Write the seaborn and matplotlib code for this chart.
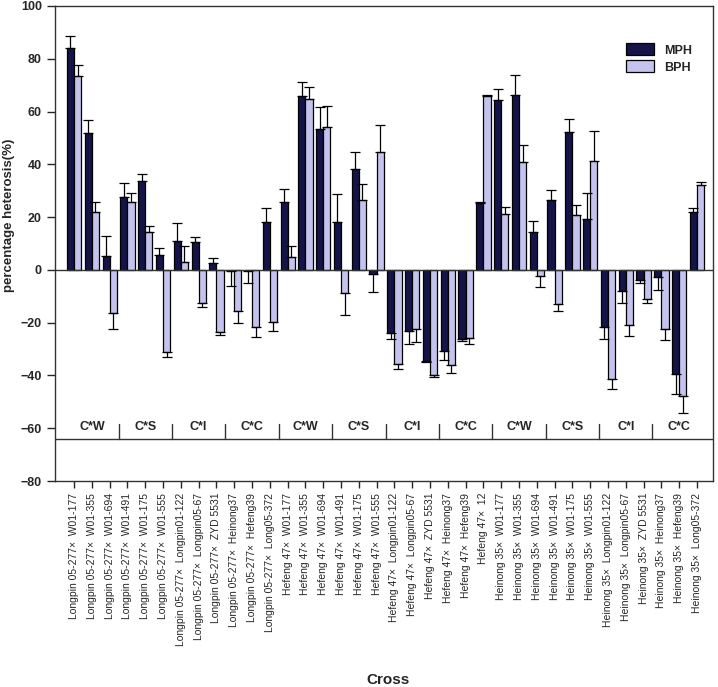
import matplotlib
matplotlib.use("Agg")
import matplotlib.pyplot as plt
import numpy as np
import pandas as pd
import seaborn as sns

# crosses in plotting order
female = ["Longpin 05-277×"] * 12 + ["Hefeng 47×"] * 12 + ["Heinong 35×"] * 12
male = ["W01-177", "W01-355", "W01-694", "W01-491", "W01-175", "W01-555",
        "Longpin01-122", "Longpin05-67", "ZYD 5531", "Heinong37", "Hefeng39", "Long05-372",
        "W01-177", "W01-355", "W01-694", "W01-491", "W01-175", "W01-555",
        "Longpin01-122", "Longpin05-67", "ZYD 5531", "Heinong37", "Hefeng39", "12",
        "W01-177", "W01-355", "W01-694", "W01-491", "W01-175", "W01-555",
        "Longpin01-122", "Longpin05-67", "ZYD 5531", "Heinong37", "Hefeng39", "Long05-372"]
crosses = [f + "  " + m for f, m in zip(female, male)]

groups = ["C*W", "C*S", "C*I", "C*C"] * 3

mph = [84.1, 52.0, 5.3, 27.7, 33.5, 5.6, 11.0, 10.5, 2.7, -0.6, -0.6, 18.3,
       25.7, 66.0, 53.5, 18.3, 38.2, -1.5, -24.0, -23.1, -34.4, -30.9, -26.3, 25.3,
       64.5, 66.4, 14.2, 26.3, 52.3, 19.4, -21.5, -8.0, -3.8, -2.8, -39.6, 22.1]
mph_err = [4.4, 4.7, 7.6, 5.3, 2.9, 2.6, 6.6, 1.9, 1.8, 5.5, 4.2, 5.0,
           4.8, 5.2, 8.2, 10.4, 6.6, 7.0, 2.3, 5.0, 0.5, 3.3, 0.6, 0.3,
           3.9, 7.5, 4.5, 3.8, 4.9, 9.7, 4.7, 4.5, 1.3, 5.0, 7.3, 1.2]
bph = [73.5, 21.9, -16.4, 25.9, 14.2, -31.0, 2.9, -12.5, -23.4, -15.4, -21.5, -19.6,
       4.9, 64.6, 54.0, -8.9, 26.6, 44.8, -35.7, -22.3, -40.0, -36.2, -25.9, 65.8,
       21.1, 40.7, -2.5, -12.9, 20.7, 41.1, -41.5, -20.9, -11.0, -22.4, -47.7, 32.1]
bph_err = [4.2, 3.8, 6.0, 3.2, 2.6, 1.9, 6.2, 1.6, 1.3, 4.6, 3.8, 3.4,
           4.1, 4.8, 8.2, 8.1, 6.0, 10.2, 2.0, 5.2, 0.5, 2.8, 2.1, 0.6,
           2.9, 6.5, 3.8, 2.7, 3.8, 11.4, 3.7, 4.0, 1.4, 4.0, 6.5, 1.3]

colors = {"MPH": "#0b0b52", "BPH": "#bcbcf4"}

df = pd.DataFrame({
    "cross": crosses * 2,
    "type": ["MPH"] * len(crosses) + ["BPH"] * len(crosses),
    "value": mph + bph,
    "err": mph_err + bph_err,
})

sns.set_style("ticks")
plt.rcParams["font.family"] = ["Liberation Sans", "DejaVu Sans"]

fig, ax = plt.subplots(figsize=(7.18, 6.87), dpi=100)
fig.subplots_adjust(left=55 / 718, right=713 / 718, top=1 - 6 / 687, bottom=1 - 481 / 687)

sns.barplot(data=df, x="cross", y="value", hue="type", palette=colors,
            edgecolor="black", linewidth=0.9, width=0.8, errorbar=None, ax=ax)

# one-sided error bars (away from zero)
for cont, errs in zip(ax.containers, [mph_err, bph_err]):
    for bar, e in zip(cont, errs):
        xc = bar.get_x() + bar.get_width() / 2
        v = bar.get_height() if bar.get_y() == 0 else bar.get_y()
        lo, hi = (0, e) if v >= 0 else (e, 0)
        ax.errorbar(xc, v, yerr=[[lo], [hi]], fmt="none", ecolor="black",
                    elinewidth=0.9, capsize=3.5, capthick=0.9)

ax.axhline(0, color="#333333", lw=1.0)
ax.axhline(-64, color="#333333", lw=1.0)

# group separators and labels
for g, name in enumerate(groups):
    ax.text(g * 3 + 1, -59.5, name, ha="center", va="center",
            fontsize=9, fontweight="bold")
    if g > 0:
        ax.plot([g * 3 - 0.5, g * 3 - 0.5], [-64, -58.5], color="#333333", lw=1.0)

ax.set_xlim(-1.07, 35.9)
ax.set_ylim(-80, 100)
ax.set_yticks(np.arange(-80, 101, 20))
ax.tick_params(axis="y", labelsize=9, length=6, width=1)
for t in ax.get_yticklabels():
    t.set_fontweight("bold")
ax.tick_params(axis="x", labelsize=7.5, length=5, width=1, rotation=90)

for s in ax.spines.values():
    s.set_linewidth(1.0)
    s.set_color("#333333")

ax.set_ylabel("percentage heterosis(%)", fontsize=9.5, fontweight="bold")
ax.yaxis.set_label_coords(-0.061, 0.56)
ax.set_xlabel("Cross", fontsize=11, fontweight="bold")
ax.xaxis.label.set_va("baseline")
ax.xaxis.set_label_coords(0.506, -0.428)

leg = ax.legend(loc="upper right", bbox_to_anchor=(0.985, 0.945), frameon=False,
                handlelength=2.2, handleheight=1.1, labelspacing=0.3,
                prop={"weight": "bold", "size": 9})

fig.savefig("out.png", dpi=100)
